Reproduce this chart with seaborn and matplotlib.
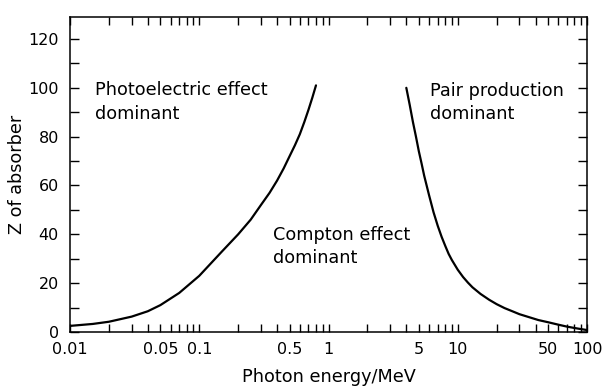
import numpy as np
import pandas as pd
import matplotlib
matplotlib.use("Agg")
import matplotlib.pyplot as plt
import seaborn as sns

# Boundary where photoelectric and Compton interactions are equally likely
photo_energy = [0.01, 0.015, 0.02, 0.03, 0.04, 0.05, 0.07, 0.1, 0.15, 0.2,
                0.25, 0.3, 0.35, 0.4, 0.45, 0.5, 0.55, 0.6, 0.65, 0.7, 0.75, 0.8]
photo_z = [2.5, 3.3, 4.2, 6.3, 8.5, 11, 16, 23, 33, 40,
           46, 52, 57, 62, 67, 72, 76.5, 81, 86, 91, 96, 101]

# Boundary where Compton scattering and pair production are equally likely
pair_energy = [4.0, 4.25, 4.5, 4.75, 5.0, 5.25, 5.5, 6.0, 6.5, 7.0, 7.5, 8.0,
               8.5, 9.0, 10, 11, 12, 13, 15, 17.5, 20, 23, 27, 30, 35, 42,
               50, 60, 70, 85, 100]
pair_z = [100, 93, 86, 80, 74, 69, 64, 56, 49, 43.5, 39, 35.3,
          32, 29.5, 25.5, 22.5, 20.2, 18.3, 15.6, 13.2, 11.4, 9.8, 8.3, 7.3,
          6.2, 4.9, 4.0, 3.0, 2.2, 1.4, 0.8]

x_tick_labels = ["0.01", "0.05", "0.1", "0.5", "1", "5", "10", "50", "100"]
y_tick_labels = ["0", "20", "40", "60", "80", "100", "120"]

# region name lines, and where the first line's baseline sits
regions = [
    (["Photoelectric effect", "dominant"], 0.0156, 97.0),
    (["Compton effect", "dominant"], 0.37, 37.7),
    (["Pair production", "dominant"], 6.1, 96.7),
]

sns.set_style("ticks")
plt.rcParams["font.family"] = ["DejaVu Sans"]
plt.rcParams["font.size"] = 11.5
for key in ["text.color", "axes.labelcolor", "xtick.color", "ytick.color",
            "axes.edgecolor"]:
    plt.rcParams[key] = "black"

df = pd.concat([
    pd.DataFrame({"energy": photo_energy, "Z": photo_z, "boundary": "photo"}),
    pd.DataFrame({"energy": pair_energy, "Z": pair_z, "boundary": "pair"}),
])

fig = plt.figure(figsize=(6.05, 3.87), dpi=100)
ax = fig.add_axes([70 / 605, 1 - 332 / 387, (587 - 70) / 605, (332 - 17) / 387])

sns.lineplot(data=df, x="energy", y="Z", units="boundary", estimator=None,
             sort=False, color="black", linewidth=1.6, ax=ax)

ax.set_xscale("log")
ax.set_xlim(0.01, 100)
ax.set_ylim(0, 129)

# every 1..9 multiple gets a tick, only some get labels
decades = [0.01, 0.1, 1, 10]
xt = [d * m for d in decades for m in range(1, 10)] + [100]
xl = []
for v in xt:
    s = f"{v:g}"
    xl.append(s if s in x_tick_labels else "")
ax.xaxis.set_minor_locator(matplotlib.ticker.NullLocator())
ax.set_xticks(xt)
ax.set_xticklabels(xl)

yt = [int(s) for s in y_tick_labels]
ax.set_yticks(yt)
ax.set_yticklabels(y_tick_labels)
ax.set_yticks(np.arange(10, 130, 20), minor=True)

ax.tick_params(axis="x", which="both", direction="in", top=True, bottom=True,
               length=6, width=1.0, pad=7, labelsize=11.5)
ax.tick_params(axis="y", which="both", direction="in", left=True, right=True,
               length=6.5, width=1.0, pad=8, labelsize=11.5)

for s in ax.spines.values():
    s.set_visible(True)
    s.set_linewidth(1.1)

line_pitch = 23.5 * 72 / 100  # points between text lines
for lines, ex, z in regions:
    for i, line in enumerate(lines):
        ax.annotate(line, xy=(ex, z), xytext=(0, -i * line_pitch),
                    textcoords="offset points", ha="left", va="baseline",
                    fontsize=12.7)

ax.set_xlabel("Photon energy/MeV", fontsize=12.7, labelpad=8)
ax.set_ylabel("Z of absorber", fontsize=12.7, labelpad=2)

fig.savefig("out.png", dpi=100)
